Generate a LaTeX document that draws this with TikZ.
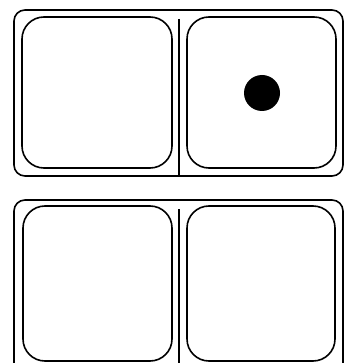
\documentclass[tikz,border=0pt]{standalone}
\begin{document}
\begin{tikzpicture}[x=1pt,y=-1pt,
  outer/.style={draw=black,line width=1.6pt,rounded corners=11pt},
  inner/.style={draw=black,line width=1.6pt,rounded corners=22pt},
  divider/.style={draw=black,line width=1.5pt}]
\useasboundingbox (0,0) rectangle (353,363);
\clip (0,0) rectangle (353,363);
% top unit
\draw[outer] (14,10) rectangle (343,176);
\draw[inner] (22,17) rectangle (172,168);
\draw[inner] (187,17) rectangle (336,168);
\draw[divider] (179,19) -- (179,176);
\fill[black] (262,93) circle (18);
% bottom unit
\draw[outer] (14,200) rectangle (343,380);
\draw[inner] (23,206) rectangle (172,361);
\draw[inner] (187,206) rectangle (335,361);
\draw[divider] (179,209) -- (179,363);
\end{tikzpicture}
\end{document}
